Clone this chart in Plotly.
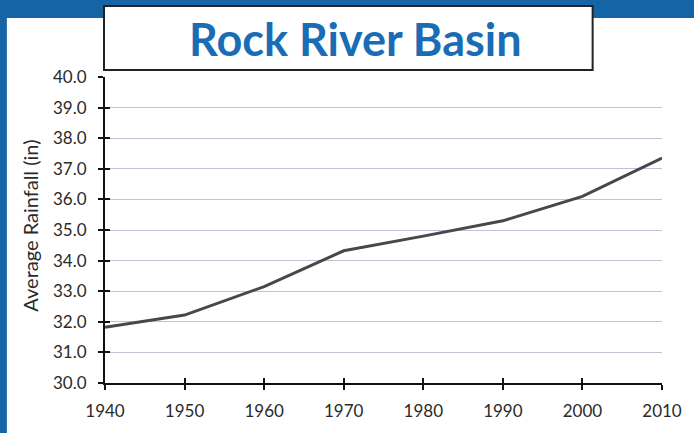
import plotly.graph_objects as go

years = [1940, 1950, 1960, 1970, 1980, 1990, 2000, 2010]
rainfall = [31.82, 32.22, 33.15, 34.32, 34.8, 35.3, 36.1, 37.35]
y_ticks = [30 + i for i in range(11)]
y_labels = [f"{v:.1f}" for v in y_ticks]
title_text = "Rock River Basin"
y_title = "Average Rainfall (in)"

W, H = 694, 433
L, R, T, B = 105, 27, 77, 50
pw, ph = W - L - R, H - T - B

def px(x):
    return (x - L) / pw

def py(y):
    return (H - B - y) / ph

fig = go.Figure()
fig.add_trace(go.Scatter(x=years, y=rainfall, mode="lines",
                         line=dict(color="#484848", width=3), showlegend=False,
                         hoverinfo="skip"))
# invisible trace for overlay axes (cross ticks)
fig.add_trace(go.Scatter(x=years, y=rainfall, mode="lines", xaxis="x2", yaxis="y2",
                         line=dict(color="rgba(0,0,0,0)", width=0), showlegend=False,
                         hoverinfo="skip"))

tickfont = dict(family="Lato, sans-serif", size=17, color="#2a2a2a")

fig.update_layout(
    width=W, height=H,
    margin=dict(l=L, r=R, t=T, b=B),
    paper_bgcolor="#1565a6",
    plot_bgcolor="rgba(0,0,0,0)",
    xaxis=dict(range=[1940, 2010], tickvals=years, ticktext=[str(y) for y in years],
               showgrid=False, zeroline=False, showline=True, linecolor="#111111",
               linewidth=2, ticks="outside", ticklen=5, tickwidth=2, tickcolor="#111111",
               tickfont=tickfont, ticklabelstandoff=7),
    yaxis=dict(range=[30, 40], tickvals=y_ticks, ticktext=y_labels,
               showgrid=True, gridcolor="#cbbcd6", gridwidth=1, zeroline=False,
               showline=True, linecolor="#111111", linewidth=2, ticks="outside",
               ticklen=5, tickwidth=2, tickcolor="#111111", tickfont=tickfont,
               ticklabelstandoff=8),
    xaxis2=dict(overlaying="x", matches="x", range=[1940, 2010], tickvals=years,
                showticklabels=False, showgrid=False, zeroline=False, showline=False,
                ticks="inside", ticklen=5, tickwidth=2, tickcolor="#111111", side="bottom",
                anchor="y2"),
    yaxis2=dict(overlaying="y", matches="y", range=[30, 40], tickvals=y_ticks,
                showticklabels=False, showgrid=False, zeroline=False, showline=False,
                ticks="inside", ticklen=5, tickwidth=2, tickcolor="#111111", side="left",
                anchor="x2"),
    shapes=[
        dict(type="rect", xref="paper", yref="paper", x0=px(6), x1=px(700),
             y0=py(440), y1=py(18), fillcolor="white", line=dict(width=0), layer="below"),
        dict(type="rect", xref="paper", yref="paper", x0=px(104), x1=px(597),
             y0=py(70), y1=py(6), fillcolor="white", line=dict(color="#222222", width=2),
             layer="above"),
    ],
    annotations=[
        dict(text=title_text, xref="paper", yref="paper", x=px(357.5), y=py(39),
             xanchor="center", yanchor="middle", showarrow=False,
             font=dict(family="Lato, sans-serif", size=45, color="#1a6db5", weight="bold")),
        dict(text=y_title, xref="paper", yref="paper", x=px(29), y=py(226),
             xanchor="center", yanchor="middle", showarrow=False, textangle=-90,
             font=dict(family="Lato, sans-serif", size=20, color="#2a2a2a")),
    ],
)

fig.write_html("out.html", config={"displayModeBar": False},
               post_script="document.body.style.margin='0';")
